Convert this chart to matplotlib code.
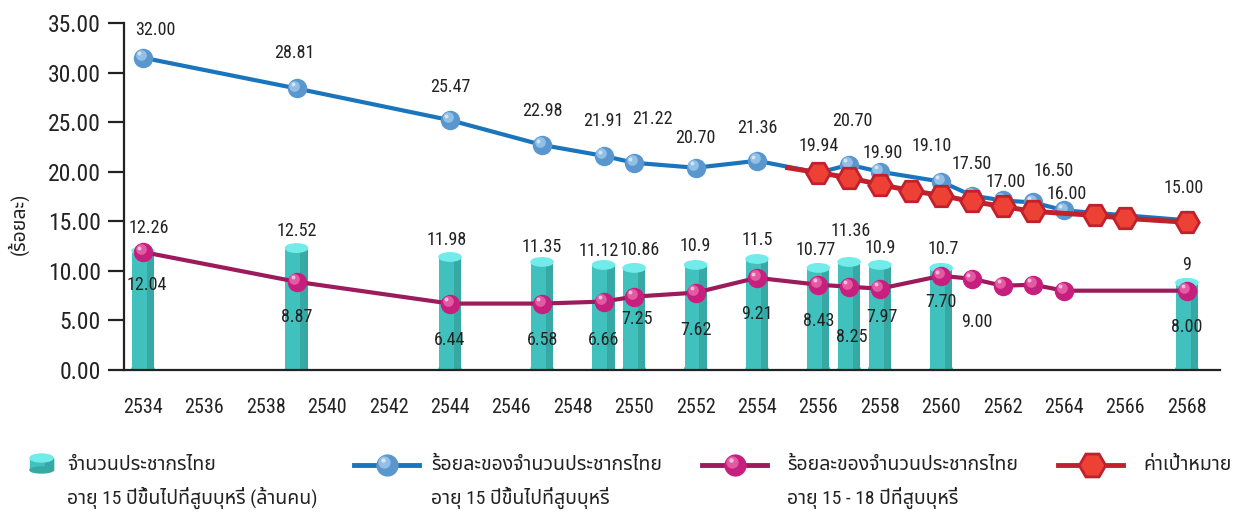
import matplotlib
matplotlib.use("Agg")
import matplotlib.pyplot as plt
from matplotlib.patches import Ellipse, Rectangle
from matplotlib.transforms import offset_copy

plt.rcParams["font.family"] = ["Roboto Condensed", "Noto Sans Thai", "DejaVu Sans"]

# ── data ──────────────────────────────────────────────────────────────────────
bar_years  = [2534, 2539, 2544, 2547, 2549, 2550, 2552, 2554, 2556, 2557, 2558, 2560, 2568]
bar_vals   = [12.0, 12.3, 11.4, 10.9, 10.6, 10.3, 10.6, 11.2, 10.3, 10.9, 10.6, 10.3, 8.8]
bar_labels = ["12.26", "12.52", "11.98", "11.35", "11.12", "10.86", "10.9", "11.5",
              "10.77", "11.36", "10.9", "10.7", "9"]

blue_years  = [2534, 2539, 2544, 2547, 2549, 2550, 2552, 2554, 2556, 2557, 2558, 2560,
               2561, 2562, 2563, 2564, 2568]
blue_vals   = [31.5, 28.4, 25.2, 22.7, 21.6, 20.9, 20.4, 21.1, 19.9, 20.7, 20.0, 19.0,
               17.6, 17.1, 16.9, 16.1, 15.1]
blue_labels = ["32.00", "28.81", "25.47", "22.98", "21.91", "21.22", "20.70", "21.36",
               "19.94", "20.70", "19.90", "19.10", "17.50", "17.00", "16.50", "16.00", "15.00"]

mag_years  = [2534, 2539, 2544, 2547, 2549, 2550, 2552, 2554, 2556, 2557, 2558, 2560,
              2561, 2562, 2563, 2564, 2568]
mag_vals   = [11.9, 8.9, 6.7, 6.7, 6.9, 7.4, 7.8, 9.3, 8.6, 8.4, 8.2, 9.5,
              9.2, 8.5, 8.6, 8.0, 8.0]
mag_labels = ["12.04", "8.87", "6.44", "6.58", "6.66", "7.25", "7.62", "9.21",
              "8.43", "8.25", "7.97", "7.70", "9.00", "", "", "", "8.00"]

target_years = [2555, 2556, 2557, 2558, 2559, 2560, 2561, 2562, 2563, 2565, 2566, 2568]
target_vals  = [20.4, 19.9, 19.4, 18.7, 18.1, 17.6, 17.0, 16.5, 16.0, 15.6, 15.3, 14.9]

xticks = list(range(2534, 2569, 2))
yticks = [0, 5, 10, 15, 20, 25, 30, 35]

# label offsets (pixels: dx, dy)
bar_off  = [(6, 23), (0, 17), (-3, 17), (0, 15), (-5, 14), (5, 18), (0, 19), (0, 19),
            (-3, 18), (2, 31), (0, 17), (2, 19), (0, 18)]
blue_off = [(12, 28), (-2, 35), (0, 33), (0, 34), (0, 35), (18, 44), (0, 30), (0, 33),
            (0, 27), (3, 44), (3, 19), (-10, 36), (0, 32), (3, 18), (20, 31), (3, 16), (-3, 32)]
mag_off  = [(4, -33), (0, -35), (0, -36), (0, -36), (0, -38), (3, -22), (0, -37), (0, -36),
            (0, -36), (3, -50), (2, -28), (0, -26), (5, -43), (0, 0), (0, 0), (0, 0), (0, -36)]

C_BLUE_LINE, C_BLUE, C_BLUE_HI = "#1a75bc", "#5a97cf", "#a6cdee"
C_MAG_LINE, C_MAG, C_MAG_HI = "#9b1b5c", "#c61f7e", "#ee6fb0"
C_RED_LINE, C_RED = "#c1202d", "#ee4136"
C_CYL, C_CYL_DARK, C_CYL_TOP = "#41c1bd", "#36a9a5", "#72eceb"
TXT = "#222222"

fig = plt.figure(figsize=(12.36, 5.15), dpi=100)
ax = fig.add_axes([124 / 1236, 1 - 370 / 515, 1096 / 1236, 347 / 515])

px_per_yr = 30.7
ax.set_xlim(2534 - 19 / px_per_yr, 2534 + (1220 - 143) / px_per_yr)
ax.set_ylim(0, 35)


def spheres(x, y, base, hi, size, z, trans_ax=None):
    a = trans_ax or ax
    a.plot(x, y, ls="none", marker="o", ms=size, mfc=base, mec="none", zorder=z)
    tr = offset_copy(a.transData, fig=fig, x=-size * 0.12, y=size * 0.14, units="points")
    a.plot(x, y, ls="none", marker="o", ms=size * 0.55, mfc=hi, mec="none",
           alpha=0.75, zorder=z + 0.1, transform=tr)
    tr2 = offset_copy(a.transData, fig=fig, x=-size * 0.2, y=size * 0.22, units="points")
    a.plot(x, y, ls="none", marker="o", ms=size * 0.2, mfc="white", mec="none",
           alpha=0.6, zorder=z + 0.2, transform=tr2)


# cylinders
w = 0.72
cap_h = 0.85
ax.bar(bar_years, bar_vals, width=w, color=C_CYL, zorder=2)
ax.bar([x + w / 2 for x in bar_years], bar_vals, width=-w * 0.33, align="edge",
       color=C_CYL_DARK, zorder=2.1)
for x, v in zip(bar_years, bar_vals):
    ax.add_patch(Ellipse((x, 0.15), w, cap_h * 0.7, color=C_CYL, zorder=1.9))
    ax.add_patch(Ellipse((x, v), w, cap_h, color=C_CYL_TOP, zorder=2.2))

# magenta line
ax.plot(mag_years, mag_vals, color=C_MAG_LINE, lw=3, zorder=3)
spheres(mag_years, mag_vals, C_MAG, C_MAG_HI, 14, 4)

# blue line
ax.plot(blue_years, blue_vals, color=C_BLUE_LINE, lw=3, zorder=5)
spheres(blue_years, blue_vals, C_BLUE, C_BLUE_HI, 14, 6)

# target line
ax.plot(target_years, target_vals, color=C_RED_LINE, lw=3.6, zorder=7)
ax.plot(target_years[1:], target_vals[1:], ls="none", marker="H", ms=17,
        mfc=C_RED, mec=C_RED_LINE, mew=2, zorder=8)

# value labels
lab_kw = dict(textcoords="offset points", ha="center", va="center",
              fontsize=13, color=TXT, zorder=10)
for x, v, s, (dx, dy) in zip(bar_years, bar_vals, bar_labels, bar_off):
    ax.annotate(s, (x, v), xytext=(dx * 0.72, dy * 0.72), **lab_kw)
for x, v, s, (dx, dy) in zip(blue_years, blue_vals, blue_labels, blue_off):
    ax.annotate(s, (x, v), xytext=(dx * 0.72, dy * 0.72), **lab_kw)
for x, v, s, (dx, dy) in zip(mag_years, mag_vals, mag_labels, mag_off):
    if s:
        ax.annotate(s, (x, v), xytext=(dx * 0.72, dy * 0.72), **lab_kw)

# axes styling
for sp in ["top", "right"]:
    ax.spines[sp].set_visible(False)
ax.spines["left"].set_linewidth(1.6)
ax.spines["left"].set_color(TXT)
ax.spines["bottom"].set_linewidth(1.6)
ax.spines["bottom"].set_color(TXT)
ax.set_yticks(yticks)
ax.set_yticklabels([f"{t:.2f}" for t in yticks])
ax.set_xticks(xticks)
ax.set_xticklabels([str(t) for t in xticks])
ax.tick_params(axis="y", length=11.5, width=1.6, color=TXT, labelsize=17, pad=5,
               labelcolor=TXT)
ax.tick_params(axis="x", length=0, labelsize=14.5, pad=20, labelcolor=TXT)
fig.text(18 / 1236, 1 - 224 / 515, "(ร้อยละ)", rotation=90, ha="center", va="center",
         fontsize=14, color=TXT)

# ── legend (pixel coords) ─────────────────────────────────────────────────────
lax = fig.add_axes([0, 0, 1, 85 / 515])
lax.set_xlim(0, 1236)
lax.set_ylim(515, 430)
lax.axis("off")
leg_fs = 14
line1_y, line2_y = 465, 498

# cylinder icon
lax.add_patch(Rectangle((30, 458), 23, 12, color=C_CYL))
lax.add_patch(Rectangle((45, 458), 8, 12, color=C_CYL_DARK))
lax.add_patch(Ellipse((41.5, 470), 23, 6, color=C_CYL_DARK))
lax.add_patch(Ellipse((41.5, 458), 23, 8, color=C_CYL_TOP))
lax.text(67, line1_y, "จำนวนประชากรไทย", fontsize=leg_fs, va="center", color=TXT)
lax.text(67, line2_y, "อายุ 15 ปีขึ้นไปที่สูบบุหรี่ (ล้านคน)", fontsize=leg_fs,
         va="center", color=TXT)

lax.plot([354, 419], [line1_y, line1_y], color=C_BLUE_LINE, lw=3.5)
spheres([387], [line1_y], C_BLUE, C_BLUE_HI, 16, 3, trans_ax=lax)
lax.text(431, line1_y, "ร้อยละของจำนวนประชากรไทย", fontsize=leg_fs, va="center", color=TXT)
lax.text(431, line2_y, "อายุ 15 ปีขึ้นไปที่สูบบุหรี่", fontsize=leg_fs, va="center", color=TXT)

lax.plot([702, 767], [line1_y, line1_y], color=C_MAG_LINE, lw=3.5)
spheres([735], [line1_y], C_MAG, C_MAG_HI, 16, 3, trans_ax=lax)
lax.text(787, line1_y, "ร้อยละของจำนวนประชากรไทย", fontsize=leg_fs, va="center", color=TXT)
lax.text(787, line2_y, "อายุ 15 - 18 ปีที่สูบบุหรี่", fontsize=leg_fs, va="center", color=TXT)

lax.plot([1058, 1123], [line1_y, line1_y], color=C_RED_LINE, lw=3.5)
lax.plot([1092], [line1_y], marker="H", ms=19, mfc=C_RED, mec=C_RED_LINE, mew=2)
lax.text(1143, line1_y, "ค่าเป้าหมาย", fontsize=leg_fs, va="center", color=TXT)

fig.savefig("out.png", dpi=100)
